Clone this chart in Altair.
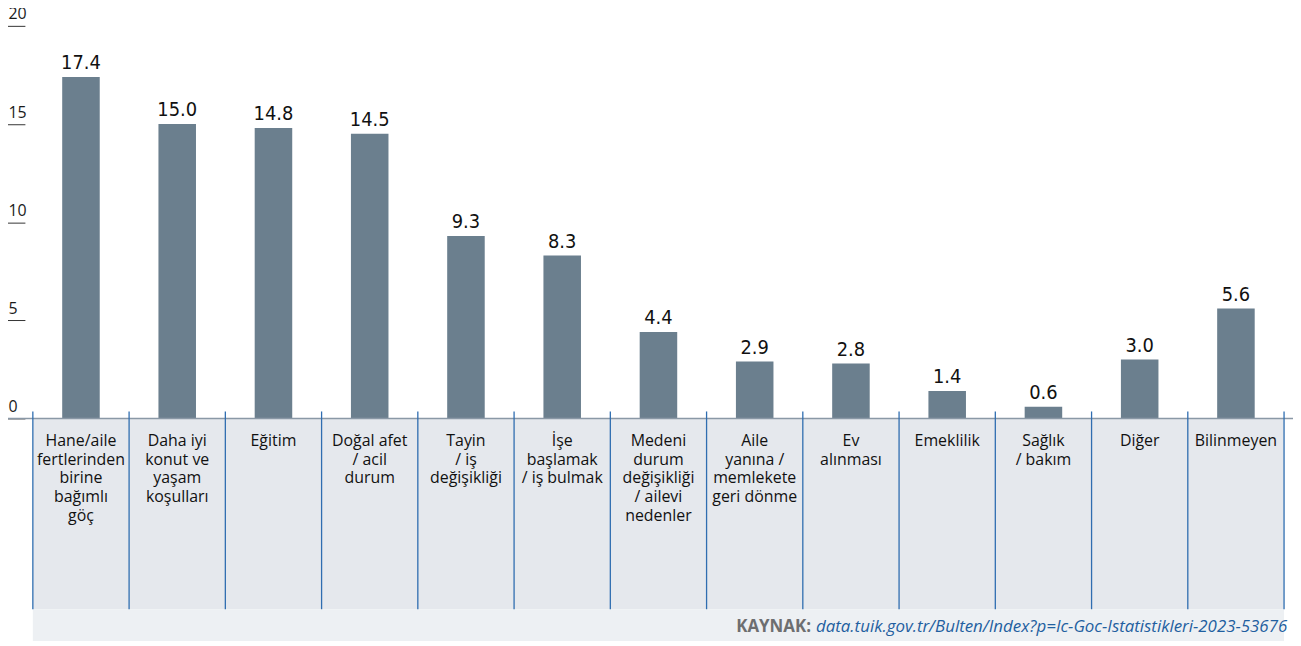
import altair as alt
import pandas as pd

categories = [
    "Hane/aile fertlerinden birine bağımlı göç",
    "Daha iyi konut ve yaşam koşulları",
    "Eğitim",
    "Doğal afet / acil durum",
    "Tayin / iş değişikliği",
    "İşe başlamak / iş bulmak",
    "Medeni durum değişikliği / ailevi nedenler",
    "Aile yanına / memlekete geri dönme",
    "Ev alınması",
    "Emeklilik",
    "Sağlık / bakım",
    "Diğer",
    "Bilinmeyen",
]
label_lines = [
    "Hane/aile\nfertlerinden\nbirine\nbağımlı\ngöç",
    "Daha iyi\nkonut ve\nyaşam\nkoşulları",
    "Eğitim",
    "Doğal afet\n/ acil\ndurum",
    "Tayin\n/ iş\ndeğişikliği",
    "İşe\nbaşlamak\n/ iş bulmak",
    "Medeni\ndurum\ndeğişikliği\n/ ailevi\nnedenler",
    "Aile\nyanına /\nmemlekete\ngeri dönme",
    "Ev\nalınması",
    "Emeklilik",
    "Sağlık\n/ bakım",
    "Diğer",
    "Bilinmeyen",
]
values = [17.4, 15.0, 14.8, 14.5, 9.3, 8.3, 4.4, 2.9, 2.8, 1.4, 0.6, 3.0, 5.6]
y_ticks = [0, 5, 10, 15, 20]
source_label = "KAYNAK:"
source_url = "data.tuik.gov.tr/Bulten/Index?p=Ic-Goc-Istatistikleri-2023-53676"

df = pd.DataFrame({"cat": categories, "label": label_lines, "val": values})

W = 1259
H = 395
PANEL_BOTTOM = 587
FOOTER_BOTTOM = 620

xscale = alt.Scale(domain=categories, paddingInner=0, paddingOuter=0)
yscale = alt.Scale(domain=[0, 20])
yaxis = alt.Axis(
    values=y_ticks,
    title=None,
    domain=False,
    grid=False,
    offset=8,
    tickSize=18,
    tickColor="#333333",
    tickWidth=1,
    labelAlign="left",
    labelBaseline="alphabetic",
    labelPadding=-1,
    labelOffset=-7,
    labelFont="Open Sans",
    labelFontSize=16,
    labelColor="#1a1a1a",
)

base = alt.Chart(df)

panel = alt.Chart(pd.DataFrame({"a": [0]})).mark_rect(color="#e5e8ed").encode(
    x=alt.value(0), x2=alt.value(W), y=alt.value(H), y2=alt.value(PANEL_BOTTOM)
)
footer = alt.Chart(pd.DataFrame({"a": [0]})).mark_rect(color="#edf0f3").encode(
    x=alt.value(0), x2=alt.value(W), y=alt.value(PANEL_BOTTOM), y2=alt.value(FOOTER_BOTTOM)
)

bars = base.mark_bar(color="#6b7f8e", width=alt.RelativeBandSize(0.39)).encode(
    x=alt.X("cat:N", scale=xscale, axis=None, sort=categories),
    y=alt.Y("val:Q", scale=yscale, axis=yaxis),
)

baseline = alt.Chart(pd.DataFrame({"val": [0]})).mark_rule(
    color="#8a98a6", strokeWidth=1.5
).encode(y=alt.Y("val:Q", scale=yscale, axis=yaxis), x=alt.value(-27), x2=alt.value(W + 9))

seps = base.mark_rule(color="#2f6db0", strokeWidth=1.3).encode(
    x=alt.X("cat:N", scale=xscale, axis=None, sort=categories, bandPosition=0),
    y=alt.value(H - 7),
    y2=alt.value(PANEL_BOTTOM),
)
last_sep = alt.Chart(df.tail(1)).mark_rule(color="#2f6db0", strokeWidth=1.3).encode(
    x=alt.X("cat:N", scale=xscale, axis=None, sort=categories, bandPosition=1),
    y=alt.value(H - 7),
    y2=alt.value(PANEL_BOTTOM),
)

value_labels = base.mark_text(
    font="'Liberation Sans Narrow', 'DejaVu Sans Condensed', 'Roboto Condensed', Roboto, sans-serif",
    fontSize=20,
    baseline="alphabetic",
    dy=-8,
    color="#111111",
).encode(
    x=alt.X("cat:N", scale=xscale, axis=None, sort=categories),
    y=alt.Y("val:Q", scale=yscale, axis=yaxis),
    text=alt.Text("val:Q", format=".1f"),
)

cat_labels = base.mark_text(
    font="Open Sans",
    fontSize=16,
    baseline="alphabetic",
    lineBreak="\n",
    lineHeight=18.7,
    color="#111111",
).encode(
    x=alt.X("cat:N", scale=xscale, axis=None, sort=categories),
    y=alt.value(H + 28),
    text="label:N",
)

src1 = alt.Chart(pd.DataFrame({"t": [source_label]})).mark_text(
    font="Open Sans", fontSize=17, fontWeight="bold", color="#6d6e70", align="right", baseline="alphabetic"
).encode(text="t:N", x=alt.value(783), y=alt.value(610))
src2 = alt.Chart(pd.DataFrame({"t": [source_url]})).mark_text(
    font="Open Sans", fontSize=17, fontStyle="italic", color="#1f5fa0", align="left", baseline="alphabetic"
).encode(text="t:N", x=alt.value(788), y=alt.value(610))

chart = (
    alt.layer(panel, footer, bars, baseline, seps, last_sep, value_labels, cat_labels, src1, src2)
    .properties(
        width=W,
        height=H,
        autosize=alt.AutoSizeParams(type="none"),
        padding={"left": 25, "top": 16, "right": 9, "bottom": 222},
    )
    .configure_view(stroke=None)
)

chart.save("out.html", embed_options={"renderer": "svg", "actions": False})
